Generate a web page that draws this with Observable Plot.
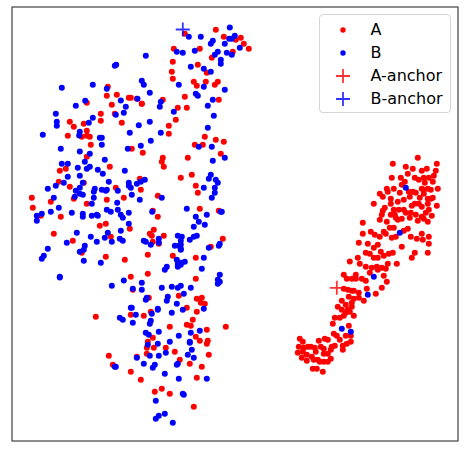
<!DOCTYPE html>
<html>
<head>
<meta charset="utf-8">
<script src="https://cdn.jsdelivr.net/npm/d3@7"></script>
<script src="https://cdn.jsdelivr.net/npm/@observablehq/plot@0.6"></script>
<style>
html,body{margin:0;padding:0;background:#fff}
#wrap{position:relative;width:464px;height:452px;overflow:hidden;font-family:"DejaVu Sans",sans-serif}
#legend{position:absolute;left:319px;top:14px;width:129.5px;height:96.5px;border:1px solid #d5d5d5;border-radius:4px;background:rgba(255,255,255,.8);box-sizing:content-box}
#legend .row{position:absolute;left:0;height:24px;line-height:24px;width:129px}
#legend svg{position:absolute;left:8px;top:0}
#legend .lab{position:absolute;left:50.5px;top:0;font-size:16px;color:#000;white-space:nowrap}
svg{display:block}
</style>
</head>
<body>
<div id="wrap"></div>
<script>
const seriesA = [
[107.3,86.3],[116.3,94.3],[106.3,95.3],[128.3,97.3],[136.3,98.3],[141.3,103.3],[86.3,102.3],[111.3,104.3],[100.3,113.3],[114.3,113.3],[100.3,120.3],[121.3,122.3],[69.3,121.3],[83.3,123.3],[73.3,126.3],[86.3,130.3],[67.3,135.3],[81.3,136.3],[86.3,135.3],[89.3,136.3],[90.3,144.3],[131.3,148.3],
[184.3,33.3],[215.3,29.3],[223.3,36.3],[240.3,37.3],[235.3,39.3],[243.3,43.3],[248.3,48.3],[173.3,48.3],[199.3,48.3],[232.3,51.3],[211.3,57.3],[172.3,61.3],[197.3,64.3],[171.3,71.3],[206.3,72.3],[172.3,78.3],[193.3,81.3],[205.3,81.3],[217.3,81.3],[214.3,84.3],[196.3,85.3],[184.3,96.3],[162.3,99.3],[218.3,99.3],[130.3,97.3],[141.3,103.3],[177.3,107.3],[186.3,107.3],[175.3,119.3],[168.3,125.3],[168.3,133.3],[204.3,136.3],[215.3,139.3],[223.3,141.3],[194.3,144.3],[202.3,144.3],
[86.3,156.3],[109.3,166.3],[65.3,168.3],[59.3,170.3],[58.3,181.3],[69.3,186.3],[83.3,182.3],[115.3,187.3],[31.3,197.3],[73.3,198.3],[50.3,201.3],[106.3,199.3],[123.3,197.3],[86.3,203.3],[32.3,207.3],[40.3,215.3],[60.3,216.3],[105.3,223.3],[99.3,225.3],[129.3,228.3],[53.3,233.3],[110.3,236.3],[72.3,240.3],[81.3,252.3],[105.3,256.3],[124.3,259.3],[130.3,276.3],
[142.3,152.3],[220.3,153.3],[162.3,157.3],[161.3,161.3],[187.3,157.3],[163.3,166.3],[191.3,174.3],[180.3,177.3],[139.3,178.3],[195.3,185.3],[140.3,189.3],[197.3,192.3],[157.3,195.3],[199.3,208.3],[218.3,210.3],[152.3,210.3],[157.3,216.3],[153.3,229.3],[149.3,233.3],[151.3,235.3],[163.3,235.3],[152.3,241.3],[158.3,243.3],[222.3,238.3],[210.3,246.3],[147.3,254.3],[172.3,255.3],[195.3,257.3],[147.3,273.3],[195.3,278.3],
[132.3,289.3],[148.3,297.3],[178.3,295.3],[196.3,298.3],[201.3,297.3],[200.3,302.3],[204.3,303.3],[186.3,307.3],[196.3,311.3],[150.3,311.3],[130.3,314.3],[143.3,315.3],[95.3,316.3],[192.3,319.3],[186.3,324.3],[190.3,325.3],[169.3,326.3],[206.3,329.3],[225.3,326.3],[195.3,336.3],[152.3,337.3],[199.3,340.3],[207.3,340.3],[206.3,343.3],[147.3,341.3],[146.3,347.3],[153.3,347.3],[165.3,347.3],[174.3,351.3],[146.3,353.3],[208.3,354.3],[108.3,355.3],[136.3,356.3],[179.3,359.3],[189.3,363.3],[112.3,364.3],[201.3,366.3],[130.3,371.3],[140.3,379.3],[196.3,377.3],[161.3,388.3],[154.3,391.3],[169.3,393.3],[193.3,406.3],
[349.3,261],[359.3,263.3],[365.3,266.3],[371.3,267.3],[376.3,266.3],[381.3,267.3],[385.3,268.3],[369.3,272.3],[377.3,269.3],[383.3,275.3],[386.3,281.3],[343.3,274.3],[355.3,274.3],[346.3,278.3],[351.3,278.3],[355.3,278.3],[361.3,278.3],[365.3,280.3],[381.3,287.3],[366.3,288.3],[375.3,293.3],[343.3,288.3],[347.3,289.3],[351.3,290.3],[353.3,290.3],[358.3,292.3],[348.3,296.3],[358.3,297.3],[353.3,298.3],[363.3,300.3],[351.3,302.3],[341.3,300.3],[345.3,304.3],[337.3,306.3],[341.3,309.3],[351.3,306.3],[347.3,309.3],[349.3,311.3],[345.3,312.3],[353.3,315.3],[343.3,315.3],[339.3,317.3],[334.3,317.3],[332.3,323.3],[348.3,325.3],[333.3,333.3],[336.3,335.3],[339.3,339.3],[345.3,335.3],[350.3,335.3],[350.3,341.3],[346.3,343.3],[342.3,345.3],[342.3,349.3],[334.3,345.3],[331.3,346.3],[330.3,349.3],[327.3,353.3],[323.3,353.3],[318.3,340.3],[324.3,338.3],[327.3,339.3],[299.3,338.3],[302.3,341.3],[298.3,346.3],[303.3,347.3],[307.3,346.3],[310.3,346.3],[314.3,347.3],[315.3,351.3],[320.3,346.3],[323.3,348.3],[297.3,352.3],[302.3,351.3],[301.3,357.3],[306.3,354.3],[311.3,356.3],[313.3,359.3],[306.3,360.3],[317.3,359.3],[319.3,361.3],[323.3,361.3],[327.3,361.3],[330.3,358.3],[312.3,368.3],[316.3,368.3],[322.3,371.3],
[417.3,157.3],[392.3,163.3],[436.3,163.3],[405.3,166.3],[412.3,168.3],[426.3,168.3],[421.3,170.3],[435.3,170.3],[407.3,173.3],[433.3,175.3],[391.3,177.3],[400.3,177.3],[414.3,177.3],[418.3,179.3],[423.3,177.3],[428.3,177.3],[432.3,181.3],[404.3,181.3],[424.3,182.3],[401.3,184.3],[437.3,188.3],[421.3,188.3],[423.3,189.3],[427.3,188.3],[430.3,189.3],[408.3,191.3],[412.3,191.3],[415.3,192.3],[386.3,188.3],[393.3,188.3],[387.3,191.3],[399.3,192.3],[379.3,193.3],[382.3,196.3],[409.3,196.3],[403.3,199.3],[423.3,193.3],[427.3,198.3],[430.3,198.3],[432.3,197.3],[419.3,197.3],[390.3,198.3],[397.3,201.3],[390.3,203.3],[373.3,203.3],[414.3,203.3],[411.3,205.3],[418.3,203.3],[421.3,206.3],[427.3,203.3],[436.3,205.3],[384.3,207.3],[393.3,209.3],[398.3,209.3],[403.3,209.3],[382.3,210.3],[381.3,214.3],[390.3,214.3],[394.3,214.3],[395.3,217.3],[401.3,218.3],[405.3,212.3],[410.3,212.3],[415.3,214.3],[409.3,217.3],[417.3,220.3],[421.3,216.3],[425.3,212.3],[428.3,209.3],[431.3,215.3],[423.3,218.3],[427.3,221.3],[379.3,219.3],[386.3,221.3],[397.3,219.3],[362.3,222.3],[389.3,227.3],[393.3,227.3],[407.3,228.3],[403.3,230.3],[370.3,231.3],[374.3,234.3],[383.3,231.3],[385.3,233.3],[362.3,233.3],[379.3,236.3],[395.3,236.3],[391.3,237.3],[410.3,236.3],[421.3,233.3],[428.3,236.3],[416.3,238.3],[422.3,239.3],[358.3,242.3],[367.3,243.3],[377.3,244.3],[373.3,247.3],[428.3,243.3],[401.3,246.3],[380.3,251.3],[365.3,252.3],[369.3,253.3],[392.3,252.3],[388.3,253.3],[383.3,255.3],[373.3,257.3],[377.3,257.3],[414.3,252.3],[427.3,252.3],[411.3,257.3],[357.3,257.3],[387.3,263.3],[396.3,263.3]
];
const seriesB = [
[145.3,55.3],[115.7,64.3],[114.3,65.3],[141.3,80.3],[143.3,84.3],[61.3,87.3],[92.3,84.3],[106.3,88.3],[149.3,92.3],[84.7,100.3],[137,98.3],[120.3,100],[75.3,105.3],[125.3,106.3],[123.3,112.3],[115.3,114.3],[55.3,113.3],[92.3,117.3],[88.3,122.3],[56.3,121.3],[56.3,125.3],[149.3,121.3],[138.3,124.7],[42.3,134.3],[79.3,131.3],[78.7,135],[129.3,132.3],[99.3,137.3],[101.3,137.3],[101.3,144.3],[60.3,148.3],[140.3,145.3],[127.3,148.3],[150.3,140.3],[79.3,151],
[229.3,27],[234.3,35.3],[228.7,38.3],[231.3,38.3],[188.3,36.3],[200.3,36.3],[212.3,40.3],[210.3,43.3],[224.3,43.3],[239.3,47.3],[176.3,51.3],[182.3,52.3],[194.3,50.3],[217.3,51.3],[214.3,54.3],[226.3,52.3],[231.3,54.3],[220.3,59.3],[220.3,63.3],[190.3,66.3],[203.3,68.3],[210.3,71.3],[178.3,84.3],[203.3,86.3],[224.3,89.3],[195.3,93.3],[197.3,95.3],[212.3,99.3],[160.3,101.3],[159.3,106.3],[207.3,105.3],[173.3,111.3],[213.3,115.3],[207.3,127.3],[160.3,132.3],[198.3,146.3],[211.3,146.3],
[89.3,153.3],[104.3,159.3],[84.3,161.3],[61.3,163.3],[67.3,163.3],[77.3,167.3],[89.3,166.3],[86.3,168.3],[97.3,169.3],[102.3,173.3],[124.3,170.3],[79.3,175.3],[67.3,176.3],[108.3,181.3],[63.3,182.3],[55.3,185.3],[82.3,182.3],[79.3,187.3],[47.3,188.3],[94.3,188.3],[93.3,191.3],[75.3,190.3],[79.3,193.3],[82.3,194.3],[101.3,189.3],[106.3,189.3],[105.3,190.3],[117.3,190.3],[128.3,182.3],[128.3,185.3],[74.3,196.3],[93.3,197.3],[53.3,197.3],[91.3,203.3],[116.7,202.3],[58.3,207.3],[106.3,209.3],[117.3,209.3],[110.3,211.3],[50.3,211.3],[71.3,212.3],[41.3,213.3],[36.3,215.3],[36.3,220.3],[82.3,213.3],[82.3,216.3],[91.3,215.3],[96.3,214.3],[97.3,215.3],[120.3,214.3],[122.3,217.3],[128.3,212.3],[128.3,223.3],[107.3,232.3],[120.3,230.3],[76.3,232.3],[90.3,236.3],[104.3,237.3],[119.3,238.3],[122.3,240.3],[66.3,242.3],[96.3,241.3],[111.3,241.3],[84.3,245.3],[47.3,248.3],[83.3,249.3],[79.3,251.3],[43.3,255.3],[41.3,258.3],[83.3,260.3],[100.3,262.3],[59.3,276.3],[59.3,277],[123.3,280],
[212.3,160.3],[224.3,157.3],[210.3,174.3],[208.3,178.3],[215.3,179.3],[217.3,182.3],[144.3,179.3],[140.3,181.3],[136.3,183.3],[130.3,187.3],[203.3,187.3],[214.3,187.3],[214.3,192.3],[131.3,194.3],[139.3,199.3],[161.3,197.3],[211.3,197.3],[186.3,208.3],[151.7,211.3],[220.3,211.3],[221.3,211.3],[206.3,214.3],[195.3,216.3],[198.3,221.3],[204.3,224.3],[193.3,226.3],[177.3,235.3],[181.3,236.3],[193.3,236.3],[196.3,235.3],[189.3,239.3],[180.3,240.3],[158.3,238.3],[158.3,242.3],[143.3,240.3],[145.3,241.3],[150.3,244.3],[180.3,244.3],[174.3,245.3],[178.3,245.3],[180.3,248.3],[180.3,249.3],[208.3,247.3],[219.3,243.3],[218.3,245.3],[176.3,259.3],[203.3,257.3],[184.3,261.3],[180.3,262.3],[177.3,263.3],[180.3,264.3],[177.3,266.3],[166.3,266.3],[164.3,269.3],[201.3,268.3],[219.3,274.3],[217.3,279.3],
[219.3,281.3],[217.3,283.3],[141.3,282.3],[111.3,285.3],[132.3,288.3],[141.3,289.3],[161.3,287.3],[171.3,286.3],[180.3,285.3],[177.3,287.3],[190.3,287.3],[183.3,293.3],[167.3,296.3],[166.3,300.3],[146.3,297.3],[145.3,299.3],[176.3,303.3],[203.3,308.3],[182.3,309.3],[157.3,308.3],[157.3,309.3],[130.3,307.3],[131.3,307.3],[151.3,313.3],[171.3,312.3],[135.3,314.3],[119.3,317.3],[122.3,319.3],[150.3,320.3],[149.3,323.3],[132.3,322.3],[145.3,332.3],[148.3,334.3],[158.3,331.3],[190.3,332.3],[199.3,330.3],[178.3,335.3],[189.3,341.3],[189.3,342.3],[169.3,341.3],[157.3,343.3],[147.3,344.3],[191.3,349.3],[165.3,352.3],[187.3,354.3],[149.3,355.3],[158.3,355.3],[136.3,357.3],[193.3,357.3],[143.3,363.3],[154.3,364.3],[152.3,367.3],[177.3,363.3],[176.3,364.3],[114.3,366.3],[115.3,366.3],[164.3,373.3],[178.3,378.3],[206.3,378.3],[182.3,393.3],[183.3,394.3],[155.3,400.3],[164.3,413.3],[158.3,415.3],[155.3,418.3],[172.3,422.3],
[373.3,276.3],[367.3,294.3],[341.3,328.3],[350.3,331.3],[405.3,187.3],[399.3,232.3]
];
const anchorA = [[336.3,287.3]];
const anchorB = [[182.3,29]];
const legendLabels = ["A","B","A-anchor","B-anchor"];
const colors = {A:"#ff0000", B:"#0000ff"};

const plot = Plot.plot({
  width:464, height:452,
  marginLeft:11.5, marginRight:6.5, marginTop:6.5, marginBottom:11.5,
  x:{domain:[11.5,457.5], axis:null},
  y:{domain:[6.5,440.5], range:[6.5,440.5], axis:null},
  style:{background:"transparent"},
  marks:[
    Plot.dot(seriesA,{x:d=>d[0],y:d=>d[1],r:3,fill:colors.A,stroke:"none"}),
    Plot.dot(seriesB,{x:d=>d[0],y:d=>d[1],r:3,fill:colors.B,stroke:"none"}),
    Plot.dot(anchorA,{x:d=>d[0],y:d=>d[1],symbol:"plus",r:4.6,stroke:colors.A,strokeWidth:1.8,strokeOpacity:.8,fill:"none"}),
    Plot.dot(anchorB,{x:d=>d[0],y:d=>d[1],symbol:"plus",r:4.6,stroke:colors.B,strokeWidth:1.8,strokeOpacity:.8,fill:"none"}),
    Plot.frame({stroke:"#1a1a1a",strokeWidth:1})
  ]
});
const wrap = document.getElementById("wrap");
wrap.appendChild(plot);

const legend = document.createElement("div");
legend.id = "legend";
wrap.appendChild(legend);
const rowCenters = [14.5, 37.5, 60.5, 83.5];
legendLabels.forEach((label,i)=>{
  const row = document.createElement("div");
  row.className = "row";
  row.style.top = (rowCenters[i]-12)+"px";
  const col = i%2===0 ? colors.A : colors.B;
  const sym = i<2
    ? `<circle cx="15" cy="12" r="2.7" fill="${col}"/>`
    : `<path d="M8 12H22M15 5V19" stroke="${col}" stroke-opacity=".8" stroke-width="1.8" fill="none"/>`;
  row.innerHTML = `<svg width="30" height="24">${sym}</svg><span class="lab">${label}</span>`;
  legend.appendChild(row);
});
</script>
</body>
</html>
